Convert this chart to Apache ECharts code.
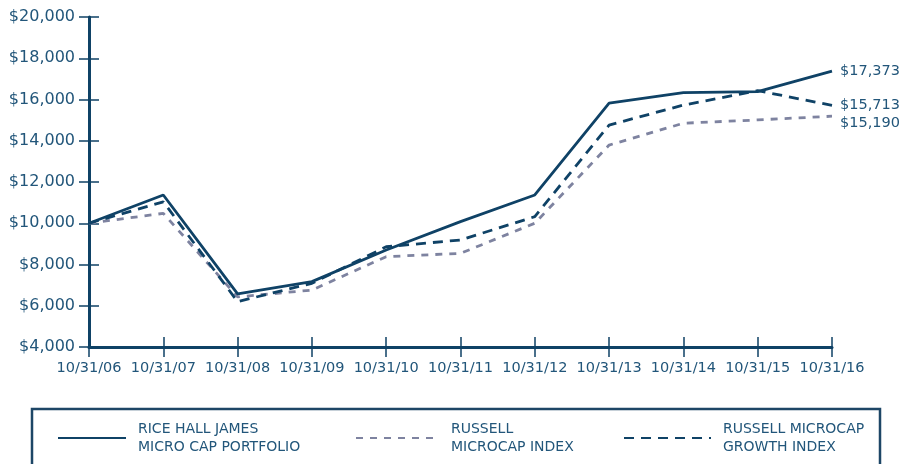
<!DOCTYPE html>
<html>
<head>
<meta charset="utf-8">
<script src="https://cdn.jsdelivr.net/npm/echarts@6/dist/echarts.min.js"></script>
<style>
  html, body { margin: 0; padding: 0; background: #fff; }
  #chart { width: 899px; height: 464px; }
</style>
</head>
<body>
<div id="chart"></div>
<script>
const dates = ["10/31/06", "10/31/07", "10/31/08", "10/31/09", "10/31/10", "10/31/11",
  "10/31/12", "10/31/13", "10/31/14", "10/31/15", "10/31/16"];
const riceHall = [10000, 11370, 6580, 7170, 8700, 10080, 11370, 15820, 16330, 16380, 17373];
const russellMicro = [10000, 10480, 6430, 6760, 8380, 8540, 10000, 13790, 14850, 15010, 15190];
const russellGrowth = [10000, 11040, 6200, 7090, 8860, 9190, 10320, 14760, 15730, 16430, 15713];

const names = ["RICE HALL JAMES\nMICRO CAP PORTFOLIO", "RUSSELL\nMICROCAP INDEX", "RUSSELL MICROCAP\nGROWTH INDEX"];

const navy = "#0f4266";
const grayBlue = "#7e83a0";
const textColor = "#22567a";
const font = "DejaVu Sans";

function money(v) {
  return "$" + v.toLocaleString("en-US");
}

document.addEventListener("DOMContentLoaded", function () {
  let chart = echarts.init(document.getElementById("chart"), null, { renderer: "canvas" });

  function endLabel(dy) {
    return {
      show: true,
      formatter: (p) => money(p.value),
      color: textColor,
      fontFamily: font,
      fontSize: 14.5,
      offset: [0, dy],
    };
  }

  // one legend per item so icon widths and positions can differ
  function legendItem(name, left, width) {
    return {
      data: [name],
      left: left,
      top: 420,
      padding: 0,
      itemWidth: width,
      itemHeight: 14,
      itemStyle: { color: "transparent", borderWidth: 0 },
      textStyle: {
        color: textColor,
        fontFamily: font,
        fontSize: 14,
        lineHeight: 18,
        padding: [0, 0, 0, 7],
      },
    };
  }

  let option = {
    animation: false,
    grid: { left: 89, right: 67, top: 17, bottom: 117, containLabel: false },
    xAxis: [
      {
        type: "category",
        data: dates,
        boundaryGap: false,
        axisLine: { lineStyle: { color: navy, width: 3 } },
        axisTick: { show: true, length: 10, lineStyle: { color: navy, width: 1.5 } },
        axisLabel: { interval: 0, color: textColor, fontFamily: font, fontSize: 14.5, margin: 14 },
      },
      {
        type: "category",
        data: dates,
        boundaryGap: false,
        position: "bottom",
        axisLine: { show: false },
        axisTick: { show: true, inside: true, length: 10, lineStyle: { color: navy, width: 1.5 } },
        axisLabel: { show: false },
      },
    ],
    yAxis: [
      {
        type: "value",
        min: 4000,
        max: 20000,
        interval: 2000,
        axisLine: { show: true, lineStyle: { color: navy, width: 3 } },
        axisTick: { show: true, length: 10, lineStyle: { color: navy, width: 1.5 } },
        splitLine: { show: false },
        axisLabel: { color: textColor, fontFamily: font, fontSize: 16, margin: 14, formatter: money },
      },
      {
        type: "value",
        min: 4000,
        max: 20000,
        interval: 2000,
        position: "left",
        axisLine: { show: false },
        axisTick: { show: true, inside: true, length: 10, lineStyle: { color: navy, width: 1.5 } },
        splitLine: { show: false },
        axisLabel: { show: false },
      },
    ],
    legend: [
      legendItem(names[0], 57, 68),
      legendItem(names[1], 355, 83),
      legendItem(names[2], 623, 87),
    ],
    graphic: [
      {
        type: "rect",
        shape: { x: 32, y: 409, width: 848, height: 90 },
        style: { fill: "none", stroke: "#1d4666", lineWidth: 2.5 },
        silent: true,
      },
    ],
    series: [
      {
        name: names[0],
        type: "line",
        data: riceHall,
        symbol: "none",
        lineStyle: { color: navy, width: 2.8 },
        itemStyle: { color: navy },
        endLabel: endLabel(0),
        z: 3,
      },
      {
        name: names[1],
        type: "line",
        data: russellMicro,
        symbol: "none",
        lineStyle: { color: grayBlue, width: 2.8, type: [7, 7] },
        itemStyle: { color: grayBlue },
        endLabel: endLabel(7),
        z: 1,
      },
      {
        name: names[2],
        type: "line",
        data: russellGrowth,
        symbol: "none",
        lineStyle: { color: navy, width: 2.8, type: [10, 7] },
        itemStyle: { color: navy },
        endLabel: endLabel(0),
        z: 2,
      },
    ],
  };
  option && chart.setOption(option);
});
</script>
</body>
</html>
